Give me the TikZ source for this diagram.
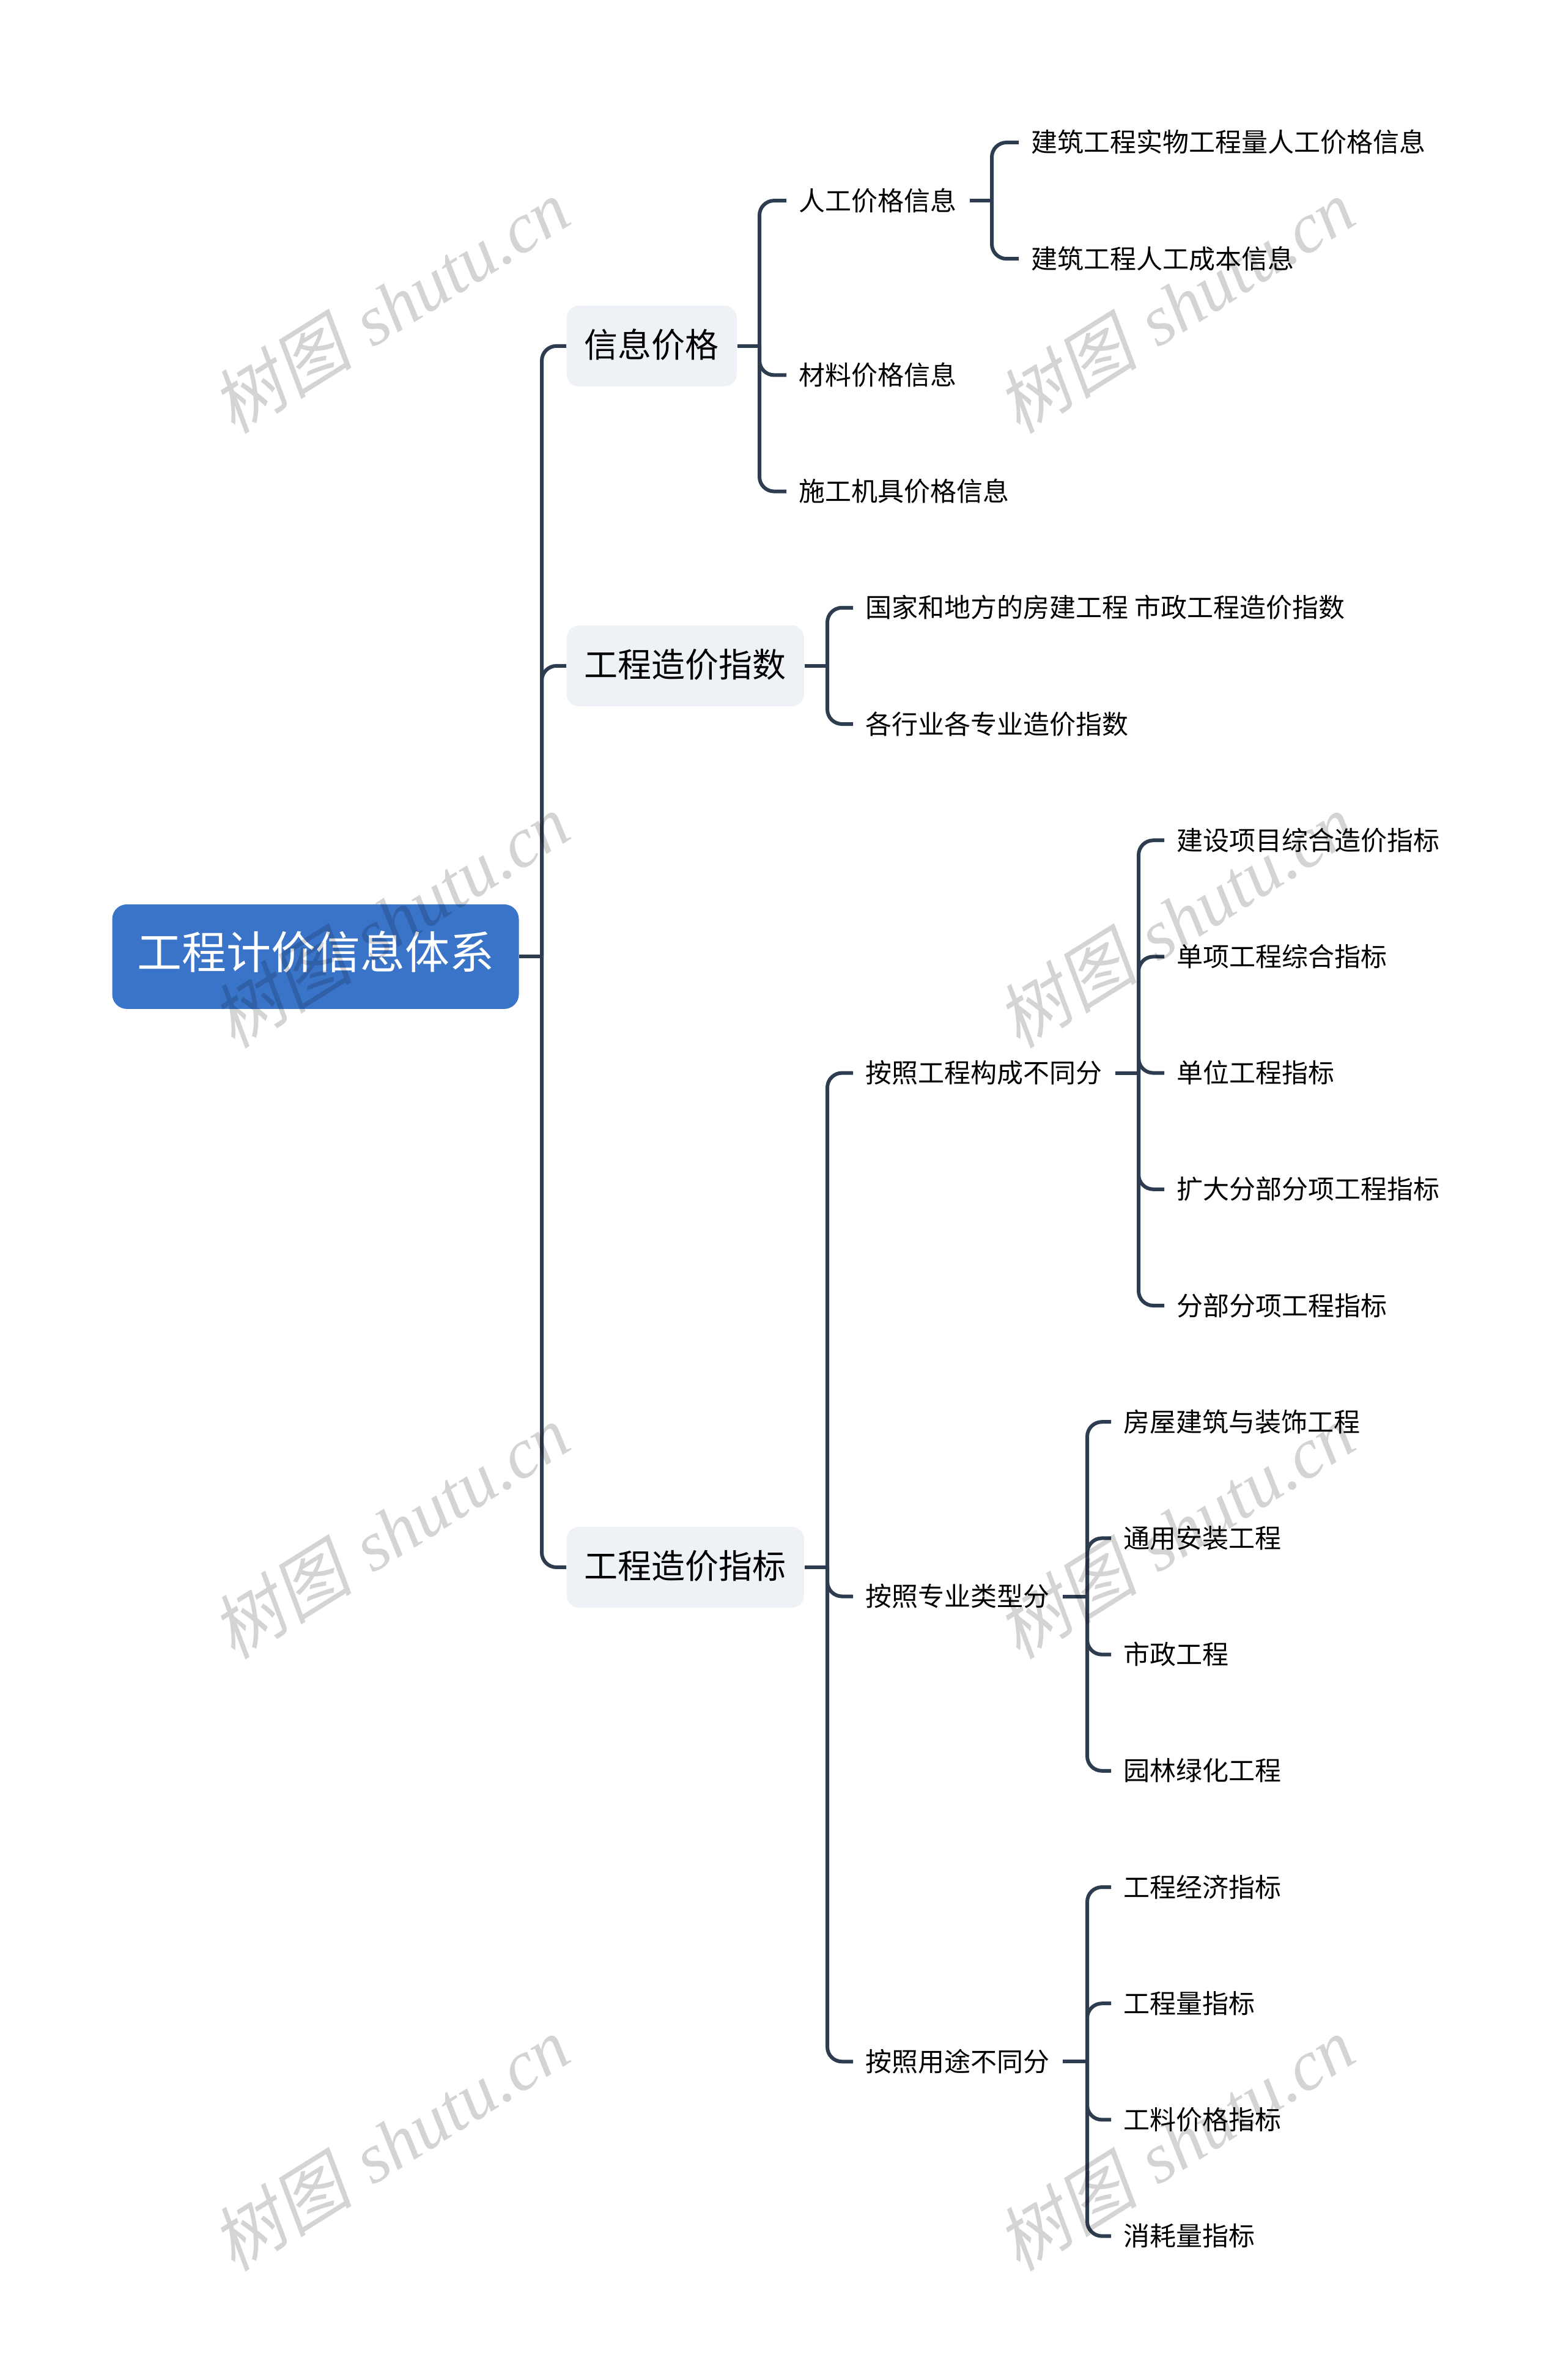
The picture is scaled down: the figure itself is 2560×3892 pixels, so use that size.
\documentclass[tikz,border=0pt]{standalone}
\usepackage{fontspec}
\newfontfamily\cjk{Noto Sans CJK SC}
\newfontfamily\wmcjk[FakeSlant=0.2]{Noto Sans CJK SC}
\newfontfamily\wmlat{Liberation Serif}
\definecolor{linec}{HTML}{2E3C50}
\definecolor{rootc}{HTML}{3A74C9}
\definecolor{lonec}{HTML}{EEF1F5}
\newcommand\mybranch[3]{%
  \coordinate (tmpx) at (#2,0);
  \draw[conn] (#1.east) -- (#1.east -| tmpx);
  \foreach \c in {#3} {\draw[conn,rounded corners=6pt] (#1.east -| tmpx) |- (\c.west);}
}
\begin{document}
\begin{tikzpicture}[x=0.25pt,y=-0.25pt,
  conn/.style={draw=linec,line width=1.5pt},
  rootbox/.style={fill=rootc,rounded corners=6pt,text=white,font=\cjk\fontsize{18.25pt}{20pt}\selectfont,minimum width=166.25pt,minimum height=42.75pt,inner sep=0pt,text height=1.0em,text depth=0em},
  lone/.style={fill=lonec,rounded corners=5pt,font=\cjk\fontsize{13.75pt}{16pt}\selectfont,minimum height=33pt,inner xsep=7.25pt,inner ysep=0pt,anchor=west,text height=0.96em,text depth=0.04em},
  leaf/.style={font=\cjk\fontsize{10.75pt}{13pt}\selectfont,inner xsep=5pt,inner ysep=1pt,anchor=west,text height=0.9em,text depth=0.1em},
  wm/.style={text=black,opacity=0.17,rotate=32,font=\fontsize{29pt}{32pt}\selectfont}]
\useasboundingbox (0,0) rectangle (2560,3892);
\fill[white] (0,0) rectangle (2560,3892);

% root
\node[rootbox] (root) at (516,1564.4) {工程计价信息体系};

% level 1
\node[lone] (xxjg) at (926,565.85) {信息价格};
\node[lone] (zjzs) at (926,1088.9) {工程造价指数};
\node[lone] (zjzb) at (926,2562.95) {工程造价指标};

% under 信息价格
\node[leaf] (rgjg) at (1286,328.1) {人工价格信息};
\node[leaf] (cljg) at (1286,613.4) {材料价格信息};
\node[leaf] (sgjj) at (1286,803.6) {施工机具价格信息};
\node[leaf] (swgc) at (1666,233) {建筑工程实物工程量人工价格信息};
\node[leaf] (rgcb) at (1666,423.2) {建筑工程人工成本信息};

% under 工程造价指数
\node[leaf] (gjdf) at (1395,993.8) {国家和地方的房建工程 市政工程造价指数};
\node[leaf] (gxy) at (1395,1184) {各行业各专业造价指数};

% under 工程造价指标
\node[leaf] (gcgc) at (1395,1754.6) {按照工程构成不同分};
\node[leaf] (zylx) at (1395,2610.5) {按照专业类型分};
\node[leaf] (ytbt) at (1395,3371.3) {按照用途不同分};

\node[leaf] (a1) at (1904,1374.2) {建设项目综合造价指标};
\node[leaf] (a2) at (1904,1564.4) {单项工程综合指标};
\node[leaf] (a3) at (1904,1754.6) {单位工程指标};
\node[leaf] (a4) at (1904,1944.8) {扩大分部分项工程指标};
\node[leaf] (a5) at (1904,2135) {分部分项工程指标};

\node[leaf] (b1) at (1817,2325.2) {房屋建筑与装饰工程};
\node[leaf] (b2) at (1817,2515.4) {通用安装工程};
\node[leaf] (b3) at (1817,2705.6) {市政工程};
\node[leaf] (b4) at (1817,2895.8) {园林绿化工程};

\node[leaf] (c1) at (1817,3086) {工程经济指标};
\node[leaf] (c2) at (1817,3276.2) {工程量指标};
\node[leaf] (c3) at (1817,3466.4) {工料价格指标};
\node[leaf] (c4) at (1817,3656.6) {消耗量指标};

% connectors
\mybranch{root}{886}{xxjg,zjzs,zjzb}
\mybranch{xxjg}{1242}{rgjg,cljg,sgjj}
\mybranch{rgjg}{1622}{swgc,rgcb}
\mybranch{zjzs}{1353}{gjdf,gxy}
\mybranch{zjzb}{1353}{gcgc,zylx,ytbt}
\mybranch{gcgc}{1862}{a1,a2,a3,a4,a5}
\mybranch{zylx}{1778}{b1,b2,b3,b4}
\mybranch{ytbt}{1778}{c1,c2,c3,c4}

% watermarks
\foreach \wx/\wy [count=\i] in {638/500,1922/500,638/1505,1922/1505,638/2504,1922/2504,638/3505,1922/3505}
  {\node[wm] (wm\i) at (\wx,\wy) {{\wmcjk 树图} {\wmlat\itshape shutu.cn}};}
\end{tikzpicture}
\end{document}
